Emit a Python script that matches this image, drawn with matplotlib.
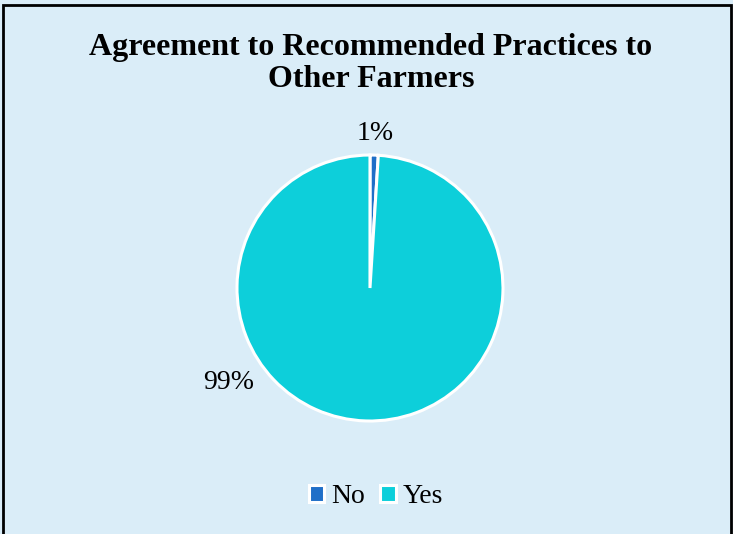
import matplotlib.pyplot as plt
from matplotlib.patches import Rectangle

categories = ["No", "Yes"]
values = [1, 99]
pct_labels = ["1%", "99%"]
colors = ["#1F6FC8", "#0DCFDA"]
bg = "#DAEDF8"

fig = plt.figure(figsize=(7.33, 5.34), dpi=100)
fig.patch.set_facecolor(bg)
plt.rcParams['font.family'] = ['Liberation Serif', 'DejaVu Serif']

fig.text(0.506, 0.881, "Agreement to Recommended Practices to\nOther Farmers", ha='center', va='center',
         fontsize=23, fontweight='bold', linespacing=1.17)

ax = fig.add_axes([0.3233, 0.2116, 0.3629, 0.4981])
ax.set_facecolor(bg)
wedges, _ = ax.pie(values, colors=colors, startangle=90, counterclock=False,
                   wedgeprops=dict(edgecolor='white', linewidth=2.2))
ax.set_xlim(-1.0, 1.0)
ax.set_ylim(-1.0, 1.0)
ax.axis('off')

ax.text(0.04, 1.165, pct_labels[0], ha='center', va='center', fontsize=20)
ax.text(-1.06, -0.71, pct_labels[1], ha='center', va='center', fontsize=20)

leg = fig.legend(wedges, categories, loc='center', bbox_to_anchor=(0.513, 0.070), ncol=2,
                 frameon=False, fontsize=20, handlelength=0.55, handleheight=0.55,
                 handletextpad=0.25, columnspacing=0.55)
for h in leg.legend_handles:
    h.set_edgecolor('white')
    h.set_linewidth(2.2)

fig.add_artist(Rectangle((0.004, -0.01), 0.993, 1.0, transform=fig.transFigure,
                         fill=False, edgecolor='black', linewidth=2))

fig.savefig("out.png", dpi=100, facecolor=bg)
